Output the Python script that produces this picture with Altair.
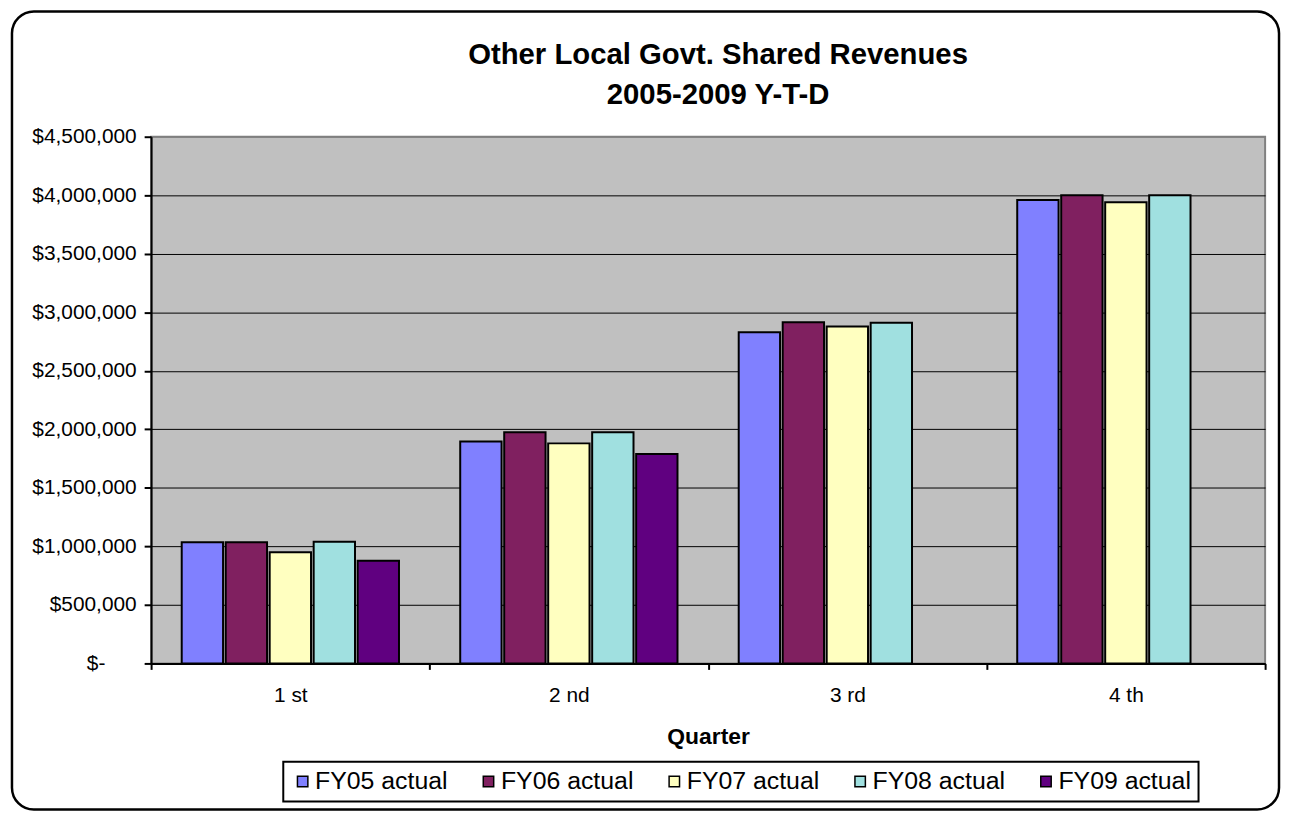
import altair as alt
import pandas as pd

quarters = ["1 st", "2 nd", "3 rd", "4 th"]
series = ["FY05 actual", "FY06 actual", "FY07 actual", "FY08 actual", "FY09 actual"]
fy05 = [1035000, 1897000, 2830000, 3960000]
fy06 = [1035000, 1975000, 2915000, 4000000]
fy07 = [950000, 1880000, 2878000, 3940000]
fy08 = [1040000, 1975000, 2910000, 4000000]
fy09 = [877000, 1790000, None, None]
colors = ["#8080FF", "#802060", "#FFFFC0", "#A0E0E0", "#600080"]
y_ticks = [0, 500000, 1000000, 1500000, 2000000, 2500000, 3000000, 3500000, 4000000, 4500000]
title_lines = ["Other Local Govt. Shared Revenues", "2005-2009 Y-T-D"]

rows = []
for name, vals in zip(series, [fy05, fy06, fy07, fy08, fy09]):
    for q, v in zip(quarters, vals):
        if v is not None:
            rows.append({"Quarter": q, "Series": name, "Value": v})
df = pd.DataFrame(rows)

FONT = "Liberation Sans"

frame = alt.Chart(alt.Data(values=[{"a": 1}])).mark_rect(
    fill="transparent", stroke="black", strokeWidth=2.5, cornerRadius=22, clip=False
).encode(
    x=alt.value(-140), x2=alt.value(1135), y=alt.value(-126), y2=alt.value(677)
)

bars = alt.Chart(df).mark_bar(stroke="black", strokeWidth=2).encode(
    x=alt.X(
        "Quarter:N", sort=quarters,
        scale=alt.Scale(paddingInner=0, paddingOuter=0),
        axis=alt.Axis(
            title="Quarter", labelAngle=0, tickBand="extent", ticks=True, tickSize=6,
            tickWidth=2, tickColor="black", domainColor="black", domainWidth=2,
            labelFont=FONT, labelFontSize=21, labelColor="black", labelPadding=15,
            titleFont=FONT, titleFontSize=23, titleFontWeight="bold", titleColor="black",
            titlePadding=21, grid=False,
        ),
    ),
    xOffset=alt.XOffset(
        "Series:N", sort=series,
        scale=alt.Scale(domain=series, paddingInner=0.06, paddingOuter=0.696),
    ),
    y=alt.Y(
        "Value:Q",
        scale=alt.Scale(domain=[0, 4500000], nice=False, zero=True),
        axis=alt.Axis(
            title=None, values=y_ticks,
            labelExpr="datum.value == 0 ? '$-\u2002\u2002\u2002\u2060' : '$' + format(datum.value, ',')",
            tickSize=7, tickWidth=2, tickColor="black", domainColor="black", domainWidth=2,
            labelFont=FONT, labelFontSize=21, labelColor="black", labelPadding=8,
            gridColor={"condition": {"test": "datum.value === 4500000", "value": "#808080"}, "value": "black"},
            gridWidth=1,
        ),
    ),
    color=alt.Color(
        "Series:N",
        scale=alt.Scale(domain=series, range=colors),
        legend=alt.Legend(
            title=None, orient="none", legendX=133, legendY=629, direction="horizontal",
            symbolType="square", symbolSize=110, symbolStrokeColor="black",
            symbolStrokeWidth=1.5, labelFont=FONT, labelFontSize=25, labelColor="black",
            strokeColor="black", padding=7, columnPadding=28, labelOffset=0,
        ),
    ),
)

chart = alt.layer(frame, bars).properties(
    width=1121,
    height=530,
    padding={"left": 144, "top": 127, "right": 18, "bottom": 149},
    autosize=alt.AutoSizeParams(type="none"),
    background="white",
    title=alt.TitleParams(
        text=title_lines, font=FONT, fontSize=29.5, fontWeight="bold", color="black",
        anchor="middle", frame="group", offset=-101, lineHeight=40, dx=10,
    ),
).configure_view(
    fill="#C0C0C0", stroke="#808080", strokeWidth=2
).configure_legend(
    strokeWidth=2
)

chart.save("out.html", embed_options={"renderer": "svg", "actions": False})
